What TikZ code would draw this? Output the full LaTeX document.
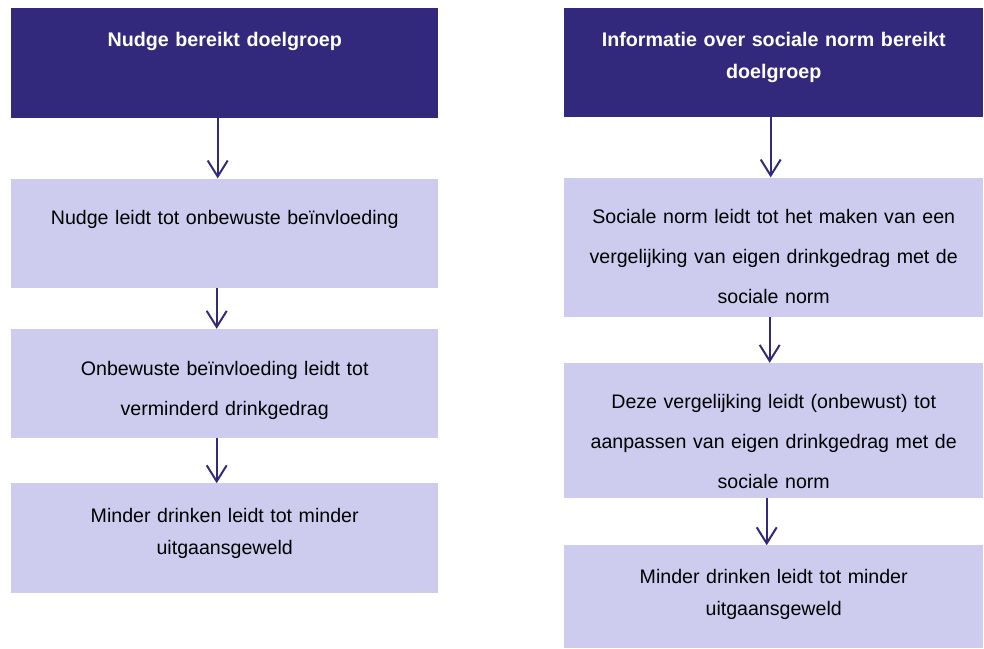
\documentclass[tikz,border=0pt]{standalone}
\usepackage{fontspec}
\setmainfont{Liberation Sans}
\usepackage{xcolor}
\usetikzlibrary{positioning}
\usetikzlibrary{arrows.meta}

\definecolor{navy}{RGB}{50,41,124}
\definecolor{lilac}{RGB}{206,204,238}

\begin{document}
\begin{tikzpicture}[x=1pt,y=1pt,
		hdr/.style={fill=navy,text=white,inner sep=0pt,align=center,
			font=\fontsize{19.7}{32}\selectfont\bfseries,text height=38pt},
		stepbox/.style={fill=lilac,text=black,inner sep=0pt,align=center,
			font=\fontsize{19.6}{40}\selectfont,text height=46pt},
		endbox/.style={fill=lilac,text=black,inner sep=0pt,align=center,
			font=\fontsize{19.6}{32}\selectfont},
		flow/.style={draw=navy,line width=2pt,-{Straight Barb[length=16pt,width=20pt]}}]
	\useasboundingbox (0,0) rectangle (984,-648);
	% linkerkolom
	\node[hdr,anchor=north west,text width=427pt,text depth=72pt] (hdrL) at (11,-8)
		{Nudge bereikt doelgroep};
	\node[stepbox,below=60pt of hdrL,text width=427pt,text depth=63pt] (nudgeL)
		{Nudge leidt tot onbewuste beïnvloeding};
	\node[stepbox,below=41pt of nudgeL,text width=427pt,text depth=63pt] (onbewL)
		{Onbewuste beïnvloeding leidt tot\\verminderd drinkgedrag};
	\node[endbox,below=45pt of onbewL,text width=427pt,text height=39pt,text depth=71pt] (minderL)
		{Minder drinken leidt tot minder\\uitgaansgeweld};
	% rechterkolom
	\node[hdr,anchor=north west,text width=419pt,text depth=71pt] (hdrR) at (564,-8)
		{Informatie over sociale norm bereikt\\doelgroep};
	\node[stepbox,below=60pt of hdrR,text width=419pt,text depth=93pt] (normR)
		{Sociale norm leidt tot het maken van een\\vergelijking van eigen drinkgedrag met de\\sociale norm};
	\node[stepbox,below=46pt of normR,text width=419pt,text height=45pt,text depth=90pt] (vergR)
		{Deze vergelijking leidt (onbewust) tot\\aanpassen van eigen drinkgedrag met de\\sociale norm};
	\node[endbox,below=47pt of vergR,text width=419pt,text height=38pt,text depth=65pt] (minderR)
		{Minder drinken leidt tot minder\\uitgaansgeweld};
	% pijlen
	\draw[flow] ([xshift=-7pt]hdrL.south) -- ([xshift=-7pt]nudgeL.north);
	\draw[flow] ([xshift=-8pt]nudgeL.south) -- ([xshift=-8pt]onbewL.north);
	\draw[flow] ([xshift=-8pt]onbewL.south) -- ([xshift=-8pt]minderL.north);
	\draw[flow] ([xshift=-3pt]hdrR.south) -- ([xshift=-3pt]normR.north);
	\draw[flow] ([xshift=-4pt]normR.south) -- ([xshift=-4pt]vergR.north);
	\draw[flow] ([xshift=-7pt]vergR.south) -- ([xshift=-7pt]minderR.north);
\end{tikzpicture}
\end{document}
